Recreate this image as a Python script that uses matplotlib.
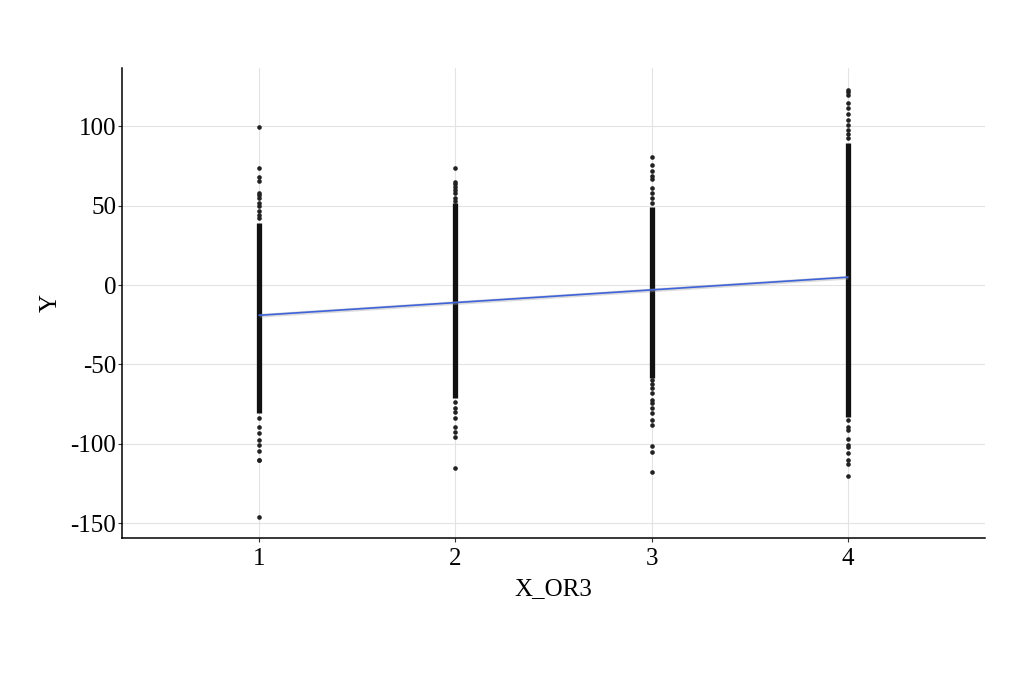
import numpy as np
import matplotlib.pyplot as plt

plt.rcParams['font.family'] = ['Liberation Serif', 'DejaVu Serif']
plt.rcParams['axes.unicode_minus'] = False

groups = [1, 2, 3, 4]
# dense part of each column (drawn as a solid band of overlapping points)
core_low = [-80.6, -71, -58.6, -83]
core_high = [39, 51.7, 49, 89.5]
# sparse points outside the dense band
sparse_y = [
    [99.5, 73.7, 68, 65.5, 58, 57, 55, 52, 50, 47, 44, 42,
     -84, -89.5, -93, -97.7, -101, -104.6, -110, -110.5, -146],
    [73.7, 65, 64, 62, 60, 58, 55, 53,
     -73.7, -77.5, -80, -84, -89.5, -92.6, -95.7, -115],
    [81, 75.6, 72, 69, 66.8, 61, 58, 55, 52,
     -60, -62, -65, -68, -72.5, -74, -77.5, -80.6, -85, -88, -101.4, -105, -118],
    [122.8, 121.5, 120, 114.7, 111.5, 108, 104, 101, 97.7, 95, 92.6,
     -85, -89.5, -91, -97, -101, -102, -106, -110, -113, -120],
]
fit_x = [1, 4]
fit_y = [-19, 5]
fit_se = [1.2, 1.2]

fig = plt.figure(figsize=(10.24, 6.82), dpi=100)
ax = fig.add_axes([0.119, 0.211, 0.843, 0.689])

for g, lo, hi, ys in zip(groups, core_low, core_high, sparse_y):
    ax.vlines(g, lo, hi, color='#111111', linewidth=3.8, zorder=2)
    ax.scatter([g] * len(ys), ys, s=11, color='#222222', linewidths=0, zorder=2)

fy = np.array(fit_y)
se = np.array(fit_se)
ax.fill_between(fit_x, fy - se, fy + se, color='#999999', alpha=0.35, linewidth=0, zorder=3)
ax.plot(fit_x, fit_y, color='#3F63D8', linewidth=1.2, zorder=4)

ax.set_xlim(0.3, 4.7)
ax.set_ylim(-159.4, 136.7)
ax.set_xticks(groups)
ax.set_yticks([-150, -100, -50, 0, 50, 100])
ax.grid(True, color='#e3e3e3', linewidth=0.8)
ax.set_axisbelow(True)

for s in ['top', 'right']:
    ax.spines[s].set_visible(False)
for s in ['left', 'bottom']:
    ax.spines[s].set_color('black')
    ax.spines[s].set_linewidth(1.1)

ax.tick_params(axis='both', labelsize=18, length=3, color='#333333', colors='black')
ax.tick_params(axis='x', pad=4)
ax.tick_params(axis='y', pad=1)
ax.set_xlabel('X_OR3', fontsize=18, labelpad=6)
ax.set_ylabel('Y', fontsize=18, labelpad=6)

fig.savefig('out.png', dpi=100, facecolor='white')
